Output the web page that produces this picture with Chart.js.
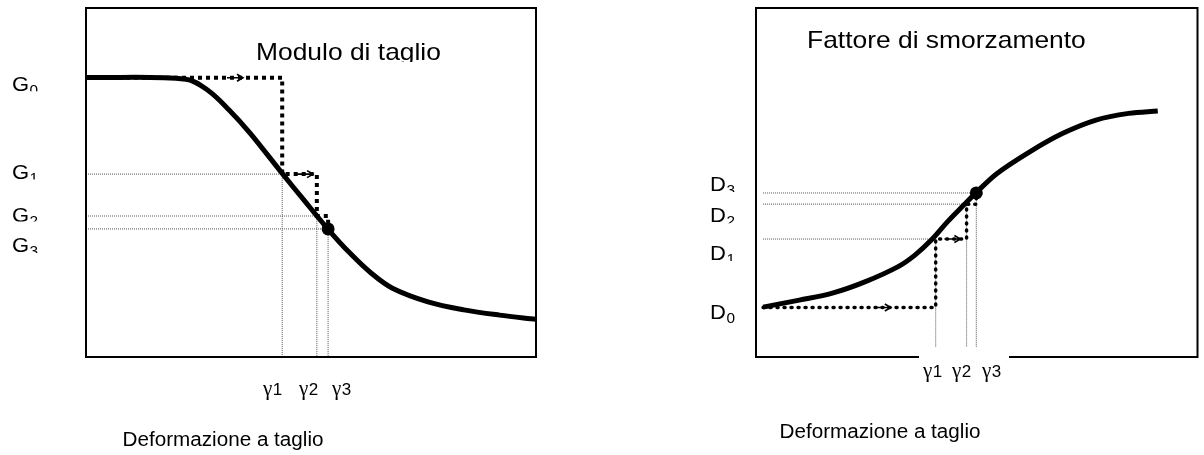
<!DOCTYPE html>
<html lang="it">
<head>
<meta charset="utf-8">
<title>Modulo di taglio e fattore di smorzamento</title>
<script src="https://cdn.jsdelivr.net/npm/chart.js@4.4.1/dist/chart.umd.min.js"></script>
<style>
  html, body { margin: 0; padding: 0; background: #fff; }
  #wrap { position: relative; width: 1204px; height: 455px; overflow: hidden; }
  .panel { position: absolute; top: 0; width: 602px; height: 455px; }
</style>
</head>
<body>
<div id="wrap">
  <div class="panel" style="left:0"><canvas id="chartG" width="602" height="455"></canvas></div>
  <div class="panel" style="left:602px"><canvas id="chartD" width="602" height="455"></canvas></div>
</div>
<script>
// ---- Modulo di taglio G(γ): curva di decadimento ----
const strainG   = [0, 22.2, 27.0, 31.8, 36.5, 43.6, 48.4, 53.8, 58.7, 63.4, 68.1, 76.0, 84.0, 91.9, 100];
const modulusG  = [80.1, 79.6, 76.5, 70.8, 64.1, 52.6, 45.0, 36.6, 29.7, 24.0, 19.7, 15.8, 13.5, 12.0, 10.8];
// iterazioni: deformazioni γ1..γ3 e moduli G0..G3
const gammaG    = [43.6, 51.3, 53.8];
const levelsG   = [80.0, 52.4, 40.4, 36.7];

// ---- Fattore di smorzamento D(γ) ----
const strainD   = [1.6, 9.8, 17.3, 24.8, 32.2, 36.0, 39.7, 43.4, 47.1, 49.7, 54.6, 62.0, 69.5, 77.0, 84.4, 91.0];
const dampingD  = [14.3, 16.3, 18.3, 21.6, 25.9, 29.2, 33.5, 38.8, 43.6, 46.9, 52.6, 58.8, 64.1, 67.9, 69.8, 70.5];
// iterazioni: deformazioni γ1..γ3 e smorzamenti D0..D3
const gammaD    = [40.7, 47.7, 49.9];
const levelsD   = [14.2, 33.8, 43.8, 47.0];

// testi
const subscripts   = ['0', '1', '2', '3'];
const strainTicks  = ['γ1', 'γ2', 'γ3'];
const xTitle       = 'Deformazione a taglio';
const titleG       = 'Modulo di taglio';
const titleD       = 'Fattore di smorzamento';

const FONT = '"Liberation Sans", Arial, Helvetica, sans-serif';
const SERIF = '"Liberation Serif", "Times New Roman", serif';

function toPoints(xs, ys) { return xs.map((x, i) => ({ x, y: ys[i] })); }

// percorso a gradini: (γ_i, L_i) -> (γ_i, L_{i+1}) ...
function iterationPath(x0, gammas, levels) {
  const pts = [{ x: x0, y: levels[0] }];
  gammas.forEach((g, i) => {
    pts.push({ x: g, y: levels[i] });
    pts.push({ x: g, y: levels[i + 1] });
  });
  return pts;
}

// linee di richiamo: orizzontale fino a γ_i, poi verticale fino all'asse
function guideLines(x0, gammas, levels) {
  const pts = [];
  gammas.forEach((g, i) => {
    pts.push({ x: x0, y: levels[i + 1] }, { x: g, y: levels[i + 1] }, { x: g, y: 0 }, { x: g, y: null });
  });
  return pts;
}

function drawText(ctx, str, x, y, size, sx, align, family) {
  ctx.save();
  ctx.font = size + 'px ' + (family || FONT);
  const w = ctx.measureText(str).width * sx;
  const left = align === 'center' ? x - w / 2 : x;
  ctx.translate(left, y);
  ctx.scale(sx, 1);
  ctx.textAlign = 'left';
  ctx.textBaseline = 'alphabetic';
  ctx.fillStyle = '#000';
  ctx.fillText(str, 0, 0);
  ctx.restore();
  return w;
}

// etichetta con pedice, tagliata in basso come una casella di testo
function clippedSubLabel(ctx, main, sub, x, baseline, clipBottom, size, sx) {
  ctx.save();
  ctx.beginPath();
  ctx.rect(x - 4, baseline - size - 4, size * 3, clipBottom - (baseline - size - 4));
  ctx.clip();
  const w = drawText(ctx, main, x, baseline, size, sx, 'left');
  drawText(ctx, sub, x + w + 0.5, baseline + 4, Math.round(size * 0.68), sx, 'left');
  ctx.restore();
}

function drawArrow(ctx, tipX, y, len, head, halfW, width) {
  ctx.save();
  ctx.strokeStyle = '#000';
  ctx.lineWidth = width;
  ctx.lineCap = 'butt';
  ctx.beginPath();
  ctx.moveTo(tipX - len, y);
  ctx.lineTo(tipX, y);
  ctx.moveTo(tipX - head, y - halfW);
  ctx.lineTo(tipX, y);
  ctx.lineTo(tipX - head, y + halfW);
  ctx.stroke();
  ctx.restore();
}

const panelDecor = {
  id: 'panelDecor',
  afterDatasetsDraw(chart, args, o) {
    const { ctx, scales: { x, y } } = chart;
    const path = chart.data.datasets[o.pathIndex].data;
    o.arrows.forEach(([seg, frac]) => {
      const p0 = path[seg], p1 = path[seg + 1];
      const x0 = x.getPixelForValue(p0.x), x1 = x.getPixelForValue(p1.x);
      const yy = y.getPixelForValue(p0.y) + o.arrowDy;
      drawArrow(ctx, x0 + (x1 - x0) * frac, yy, o.arrowLen, 6, 3.5, 1.6);
    });
  },
  afterDraw(chart, args, o) {
    const { ctx, chartArea: a, scales: { y } } = chart;
    // cornice del grafico
    ctx.save();
    ctx.strokeStyle = '#000';
    ctx.lineWidth = 2;
    ctx.strokeRect(a.left, a.top, a.right - a.left, a.bottom - a.top);
    ctx.restore();

    // casella bianca delle etichette γ
    if (o.tickBox) {
      ctx.save();
      ctx.fillStyle = '#fff';
      ctx.fillRect(o.tickBox[0], o.tickBox[1], o.tickBox[2], o.tickBox[3]);
      ctx.restore();
    }

    // etichette dei livelli (G0..G3 / D0..D3)
    o.levels.forEach((v, i) => {
      const base = y.getPixelForValue(v) + o.levelShift[i];
      clippedSubLabel(ctx, o.letter, subscripts[i], o.levelX, base, base + o.levelClip[i], 20, 1.1);
    });

    // etichette γ1 γ2 γ3
    strainTicks.forEach((t, i) => {
      const w = drawText(ctx, t.charAt(0), o.tickX[i], o.tickY, 21, 1.0, 'left', SERIF);
      drawText(ctx, t.slice(1), o.tickX[i] + w + 0.5, o.tickY, 17, 1.0, 'left');
    });

    // titolo interno
    ctx.save();
    ctx.beginPath();
    ctx.rect(o.titleX - 5, o.titleY - 30, 320, 30 + o.titleClip);
    ctx.clip();
    drawText(ctx, o.title, o.titleX, o.titleY, 24, 1.1, 'left');
    ctx.restore();

    // titolo dell'asse x
    drawText(ctx, xTitle, o.xTitleX, o.xTitleY, 19.5, 1.06, 'center');
  }
};

function buildChart(id, cfg) {
  const pathData = iterationPath(cfg.strain[0], cfg.gammas, cfg.levels);
  return new Chart(document.getElementById(id), {
    type: 'line',
    data: {
      datasets: [
        { // punto finale di convergenza
          data: [{ x: cfg.gammas[2], y: cfg.levels[3] }],
          showLine: false, pointRadius: 6.5, pointHoverRadius: 6.5,
          pointBackgroundColor: '#000', pointBorderWidth: 0, order: 0
        },
        { // curva
          data: toPoints(cfg.strain, cfg.values),
          borderColor: '#000', borderWidth: 5, pointRadius: 0,
          tension: 0.35, borderCapStyle: 'butt', order: 1
        },
        { // percorso iterativo
          data: pathData,
          borderColor: '#000', borderWidth: cfg.pathWidth, pointRadius: 0, tension: 0,
          borderDash: cfg.pathDash, borderCapStyle: cfg.pathCap, borderJoinStyle: 'miter', order: 2
        },
        { // linee di richiamo
          data: guideLines(cfg.guideX0, cfg.gammas, cfg.levels),
          borderColor: '#555', borderWidth: 1, pointRadius: 0, tension: 0,
          borderDash: [1, 1], spanGaps: false, order: 3
        }
      ]
    },
    options: {
      responsive: false,
      animation: false,
      devicePixelRatio: 1,
      events: [],
      layout: { padding: cfg.padding },
      scales: {
        x: { type: 'linear', min: 0, max: 100, display: false },
        y: { type: 'linear', min: 0, max: 100, display: false }
      },
      plugins: {
        legend: { display: false },
        tooltip: { enabled: false },
        panelDecor: Object.assign({ pathIndex: 2, levels: cfg.levels }, cfg.decor)
      }
    },
    plugins: [panelDecor]
  });
}

buildChart('chartG', {
  strain: strainG, values: modulusG, gammas: gammaG, levels: levelsG,
  guideX0: strainG[0],
  pathWidth: 4, pathDash: [4, 4], pathCap: 'butt',
  padding: { left: 86, right: 66, top: 8, bottom: 98 },
  decor: {
    letter: 'G', levelX: 12,
    levelShift: [13, 5, 6, 23], levelClip: [0.5, 0.5, -0.5, 1],
    arrows: [[0, 0.80], [2, 0.89]], arrowLen: 16, arrowDy: 0,
    tickX: [263, 299, 332], tickY: 395,
    title: titleG, titleX: 256, titleY: 60, titleClip: 2,
    xTitleX: 223, xTitleY: 446
  }
});

buildChart('chartD', {
  strain: strainD, values: dampingD, gammas: gammaD, levels: levelsD,
  guideX0: strainD[0],
  pathWidth: 3.5, pathDash: [1, 6], pathCap: 'round',
  padding: { left: 154, right: 1, top: 8, bottom: 98 },
  decor: {
    letter: 'D', levelX: 108,
    levelShift: [12, 21, 18, -2], levelClip: [4, 1, 1, 1],
    arrows: [[0, 0.74], [2, 0.80]], arrowLen: 16, arrowDy: 0,
    tickX: [321, 350, 380], tickY: 377,
    tickBox: [317, 347, 90, 50],
    title: titleD, titleX: 205, titleY: 48, titleClip: 8,
    xTitleX: 278, xTitleY: 438
  }
});
</script>
</body>
</html>
